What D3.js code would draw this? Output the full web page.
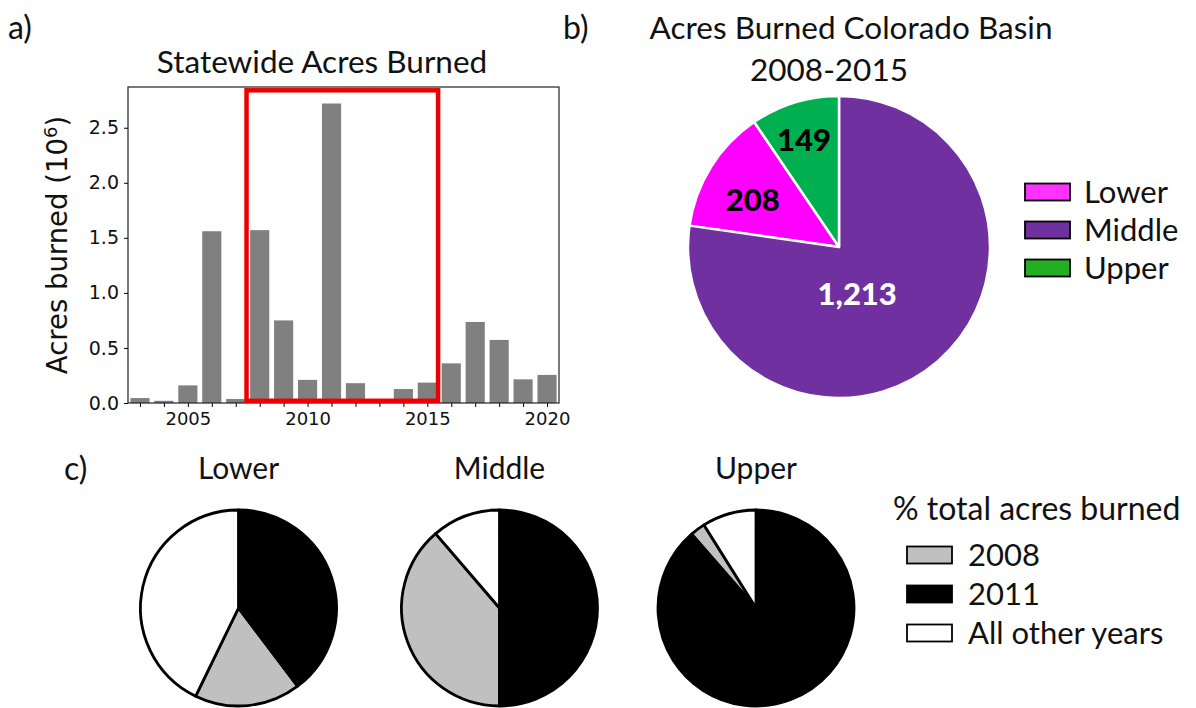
<!DOCTYPE html>
<html>
<head>
<meta charset="utf-8">
<script src="https://cdn.jsdelivr.net/npm/d3@7"></script>
<style>
  body { margin: 0; background: #fff; }
  svg text { fill: #111; }
  .cal { font-family: Lato, "Open Sans", sans-serif; }
  .mpl { font-family: "DejaVu Sans", sans-serif; }
</style>
</head>
<body>
<div id="fig"></div>
<script>
"use strict";

// a) statewide acres burned, millions
var years = [2003, 2004, 2005, 2006, 2007, 2008, 2009, 2010, 2011, 2012, 2013, 2014, 2015, 2016, 2017, 2018, 2019, 2020];
var acres = [0.045, 0.02, 0.16, 1.56, 0.036, 1.57, 0.75, 0.21, 2.72, 0.18, 0, 0.127, 0.185, 0.36, 0.736, 0.573, 0.215, 0.255];
var yTicks = [0, 0.5, 1.0, 1.5, 2.0, 2.5];
var xLabelYears = [2005, 2010, 2015, 2020];
var boxYears = [2008, 2015];

// b) Colorado basin 2008-2015 (thousand acres)
var regions = ["Lower", "Middle", "Upper"];
var basinAcres = [208, 1213, 149];
var regionColors = ["#ff00ff", "#7030a0", "#00b050"];
var legendColors = ["#ff33ff", "#7030a0", "#22b022"];

// c) share of total acres burned per region (%)
var yearGroups = ["2008", "2011", "All other years"];
var lowerShare = [17.5, 39.7, 42.8];
var middleShare = [38.7, 50.0, 11.3];
var upperShare = [2.5, 88.6, 8.9];
var groupColors = ["#c0c0c0", "#000000", "#ffffff"];

var W = 1196, H = 708;

var svg = d3.select("#fig")
  .append("svg")
    .attr("width", W)
    .attr("height", H);

svg.append("rect").attr("width", W).attr("height", H).attr("fill", "#fff");

// panel letters
[["a)", 8, 39], ["b)", 563, 39], ["c)", 64, 480]].forEach(function(p) {
  svg.append("text").attr("class", "cal")
    .attr("x", p[1]).attr("y", p[2])
    .style("font-size", "32px")
    .text(p[0]);
});

// ---------------- a) bar chart ----------------
var x = d3.scaleLinear().domain([2002.5, 2020.5]).range([128, 559]);
var y = d3.scaleLinear().domain([0, 2.87]).range([403, 87]);

var gA = svg.append("g");

gA.append("text").attr("class", "cal")
  .attr("x", 322).attr("y", 73)
  .attr("text-anchor", "middle")
  .style("font-size", "31.5px")
  .text("Statewide Acres Burned");

gA.selectAll(".bar")
  .data(years.map(function(d, i) { return {year: d, value: acres[i]}; }))
  .enter()
  .append("rect")
    .attr("class", "bar")
    .attr("x", function(d) { return x(d.year - 0.4); })
    .attr("width", x(0.8) - x(0))
    .attr("y", function(d) { return y(d.value); })
    .attr("height", function(d) { return y(0) - y(d.value); })
    .attr("fill", "#808080");

// axes frame
gA.append("rect")
  .attr("x", x.range()[0]).attr("y", y.range()[1])
  .attr("width", x.range()[1] - x.range()[0])
  .attr("height", y.range()[0] - y.range()[1])
  .attr("fill", "none")
  .attr("stroke", "#222")
  .attr("stroke-width", 1.2);

var xAxis = gA.append("g")
  .attr("class", "mpl")
  .attr("transform", "translate(0," + y(0) + ")")
  .call(d3.axisBottom(x)
    .tickValues(years)
    .tickSize(4)
    .tickPadding(5)
    .tickFormat(function(d) { return xLabelYears.indexOf(d) >= 0 ? d : ""; }));
xAxis.select(".domain").remove();
xAxis.selectAll("text").style("font-size", "18px").style("font-family", "DejaVu Sans").attr("fill", "#222");

var yAxis = gA.append("g")
  .attr("class", "mpl")
  .attr("transform", "translate(" + x.range()[0] + ",0)")
  .call(d3.axisLeft(y)
    .tickValues(yTicks)
    .tickSize(4)
    .tickPadding(5)
    .tickFormat(d3.format(".1f")));
yAxis.select(".domain").remove();
yAxis.selectAll("text").style("font-size", "19px").style("font-family", "DejaVu Sans").attr("fill", "#222");

// y label with superscript
var yl = gA.append("text").attr("class", "mpl")
  .attr("transform", "translate(67,245) rotate(-90)")
  .attr("text-anchor", "middle")
  .style("font-size", "27.5px");
yl.append("tspan").text("Acres burned (10");
yl.append("tspan").attr("dy", -10).style("font-size", "18px").text("6");
yl.append("tspan").attr("dy", 10).text(")");

// red highlight box 2008-2015
gA.append("rect")
  .attr("x", x(boxYears[0] - 0.55))
  .attr("y", y(2.84))
  .attr("width", x(boxYears[1] + 0.45) - x(boxYears[0] - 0.55))
  .attr("height", y(0.02) - y(2.84))
  .attr("fill", "none")
  .attr("stroke", "#ee0000")
  .attr("stroke-width", 4.5);

// ---------------- b) basin pie ----------------
var gB = svg.append("g").attr("transform", "translate(839,247)");
var rB = 151;

svg.append("text").attr("class", "cal")
  .attr("x", 851).attr("y", 39)
  .attr("text-anchor", "middle")
  .style("font-size", "31.5px")
  .text("Acres Burned Colorado Basin");
svg.append("text").attr("class", "cal")
  .attr("x", 829).attr("y", 81)
  .attr("text-anchor", "middle")
  .style("font-size", "31.5px")
  .text("2008-2015");

var basinData = regions.map(function(r, i) { return {name: r, value: basinAcres[i], color: regionColors[i]}; });
// clockwise from 12 o'clock: Middle, Lower, Upper
var basinOrder = ["Middle", "Lower", "Upper"];
var pieB = d3.pie()
  .value(function(d) { return d.value; })
  .sort(function(a, b) { return basinOrder.indexOf(a.name) - basinOrder.indexOf(b.name); });
var arcB = d3.arc().innerRadius(0).outerRadius(rB);

var slicesB = pieB(basinData);
gB.selectAll("path")
  .data(slicesB)
  .enter()
  .append("path")
    .attr("d", arcB)
    .attr("fill", function(d) { return d.data.color; })
    .attr("stroke", "#fff")
    .attr("stroke-width", 2.5)
    .attr("stroke-linejoin", "round");

// label placement: fraction of radius and angular nudge (degrees) from slice middle
var labelR = {Lower: 0.65, Middle: 0.33, Upper: 0.745};
var labelRot = {Lower: -3.5, Middle: 19.5, Upper: -1};
gB.selectAll(".lbl")
  .data(slicesB)
  .enter()
  .append("text")
    .attr("class", "cal lbl")
    .attr("transform", function(d) {
      var a = (d.startAngle + d.endAngle) / 2 + labelRot[d.data.name] * Math.PI / 180,
          rr = rB * labelR[d.data.name];
      return "translate(" + (Math.sin(a) * rr) + "," + (-Math.cos(a) * rr) + ")";
    })
    .attr("text-anchor", "middle")
    .attr("dy", "0.36em")
    .style("font-size", "31px")
    .style("font-weight", "900")
    .style("fill", function(d) { return d.data.name === "Middle" ? "#fff" : "#000"; })
    .text(function(d) { return d3.format(",")(d.data.value); });

var legB = svg.append("g").attr("transform", "translate(1025,192)");
var legBItem = legB.selectAll("g")
  .data(regions)
  .enter()
  .append("g")
    .attr("transform", function(d, i) { return "translate(0," + (i * 38) + ")"; });
legBItem.append("rect")
  .attr("x", 0).attr("y", -8.5)
  .attr("width", 45).attr("height", 17)
  .attr("fill", function(d, i) { return legendColors[i]; })
  .attr("stroke", "#000")
  .attr("stroke-width", 1.8);
legBItem.append("text")
  .attr("class", "cal")
  .attr("x", 59).attr("y", 0)
  .attr("dy", "0.36em")
  .style("font-size", "31px")
  .text(function(d) { return d; });

// ---------------- c) per-region year shares ----------------
var rC = 98;
var smallPies = [
  {name: "Lower", cx: 238.5, share: lowerShare},
  {name: "Middle", cx: 499.5, share: middleShare},
  {name: "Upper", cx: 756, share: upperShare}
];
// clockwise from 12 o'clock: 2011, 2008, other years
var groupOrder = ["2011", "2008", "All other years"];
var pieC = d3.pie()
  .value(function(d) { return d.value; })
  .sort(function(a, b) { return groupOrder.indexOf(a.name) - groupOrder.indexOf(b.name); });
var arcC = d3.arc().innerRadius(0).outerRadius(rC);

smallPies.forEach(function(p) {
  svg.append("text").attr("class", "cal")
    .attr("x", p.cx).attr("y", 479)
    .attr("text-anchor", "middle")
    .style("font-size", "30px")
    .text(p.name);

  var g = svg.append("g").attr("transform", "translate(" + p.cx + ",608)");
  var data = yearGroups.map(function(n, i) { return {name: n, value: p.share[i], color: groupColors[i]}; });
  g.selectAll("path")
    .data(pieC(data))
    .enter()
    .append("path")
      .attr("d", arcC)
      .attr("fill", function(d) { return d.data.color; })
      .attr("stroke", "#000")
      .attr("stroke-width", 2.8)
      .attr("stroke-linejoin", "round");
});

svg.append("text").attr("class", "cal")
  .attr("x", 893).attr("y", 520)
  .style("font-size", "32px")
  .text("% total acres burned");

var legC = svg.append("g").attr("transform", "translate(907,555)");
var legCItem = legC.selectAll("g")
  .data(yearGroups)
  .enter()
  .append("g")
    .attr("transform", function(d, i) { return "translate(0," + (i * 39) + ")"; });
legCItem.append("rect")
  .attr("x", 0).attr("y", -8.5)
  .attr("width", 45).attr("height", 17)
  .attr("fill", function(d, i) { return groupColors[i]; })
  .attr("stroke", "#000")
  .attr("stroke-width", 1.8);
legCItem.append("text")
  .attr("class", "cal")
  .attr("x", 61).attr("y", 0)
  .attr("dy", "0.36em")
  .style("font-size", "31px")
  .text(function(d) { return d; });
</script>
</body>
</html>
